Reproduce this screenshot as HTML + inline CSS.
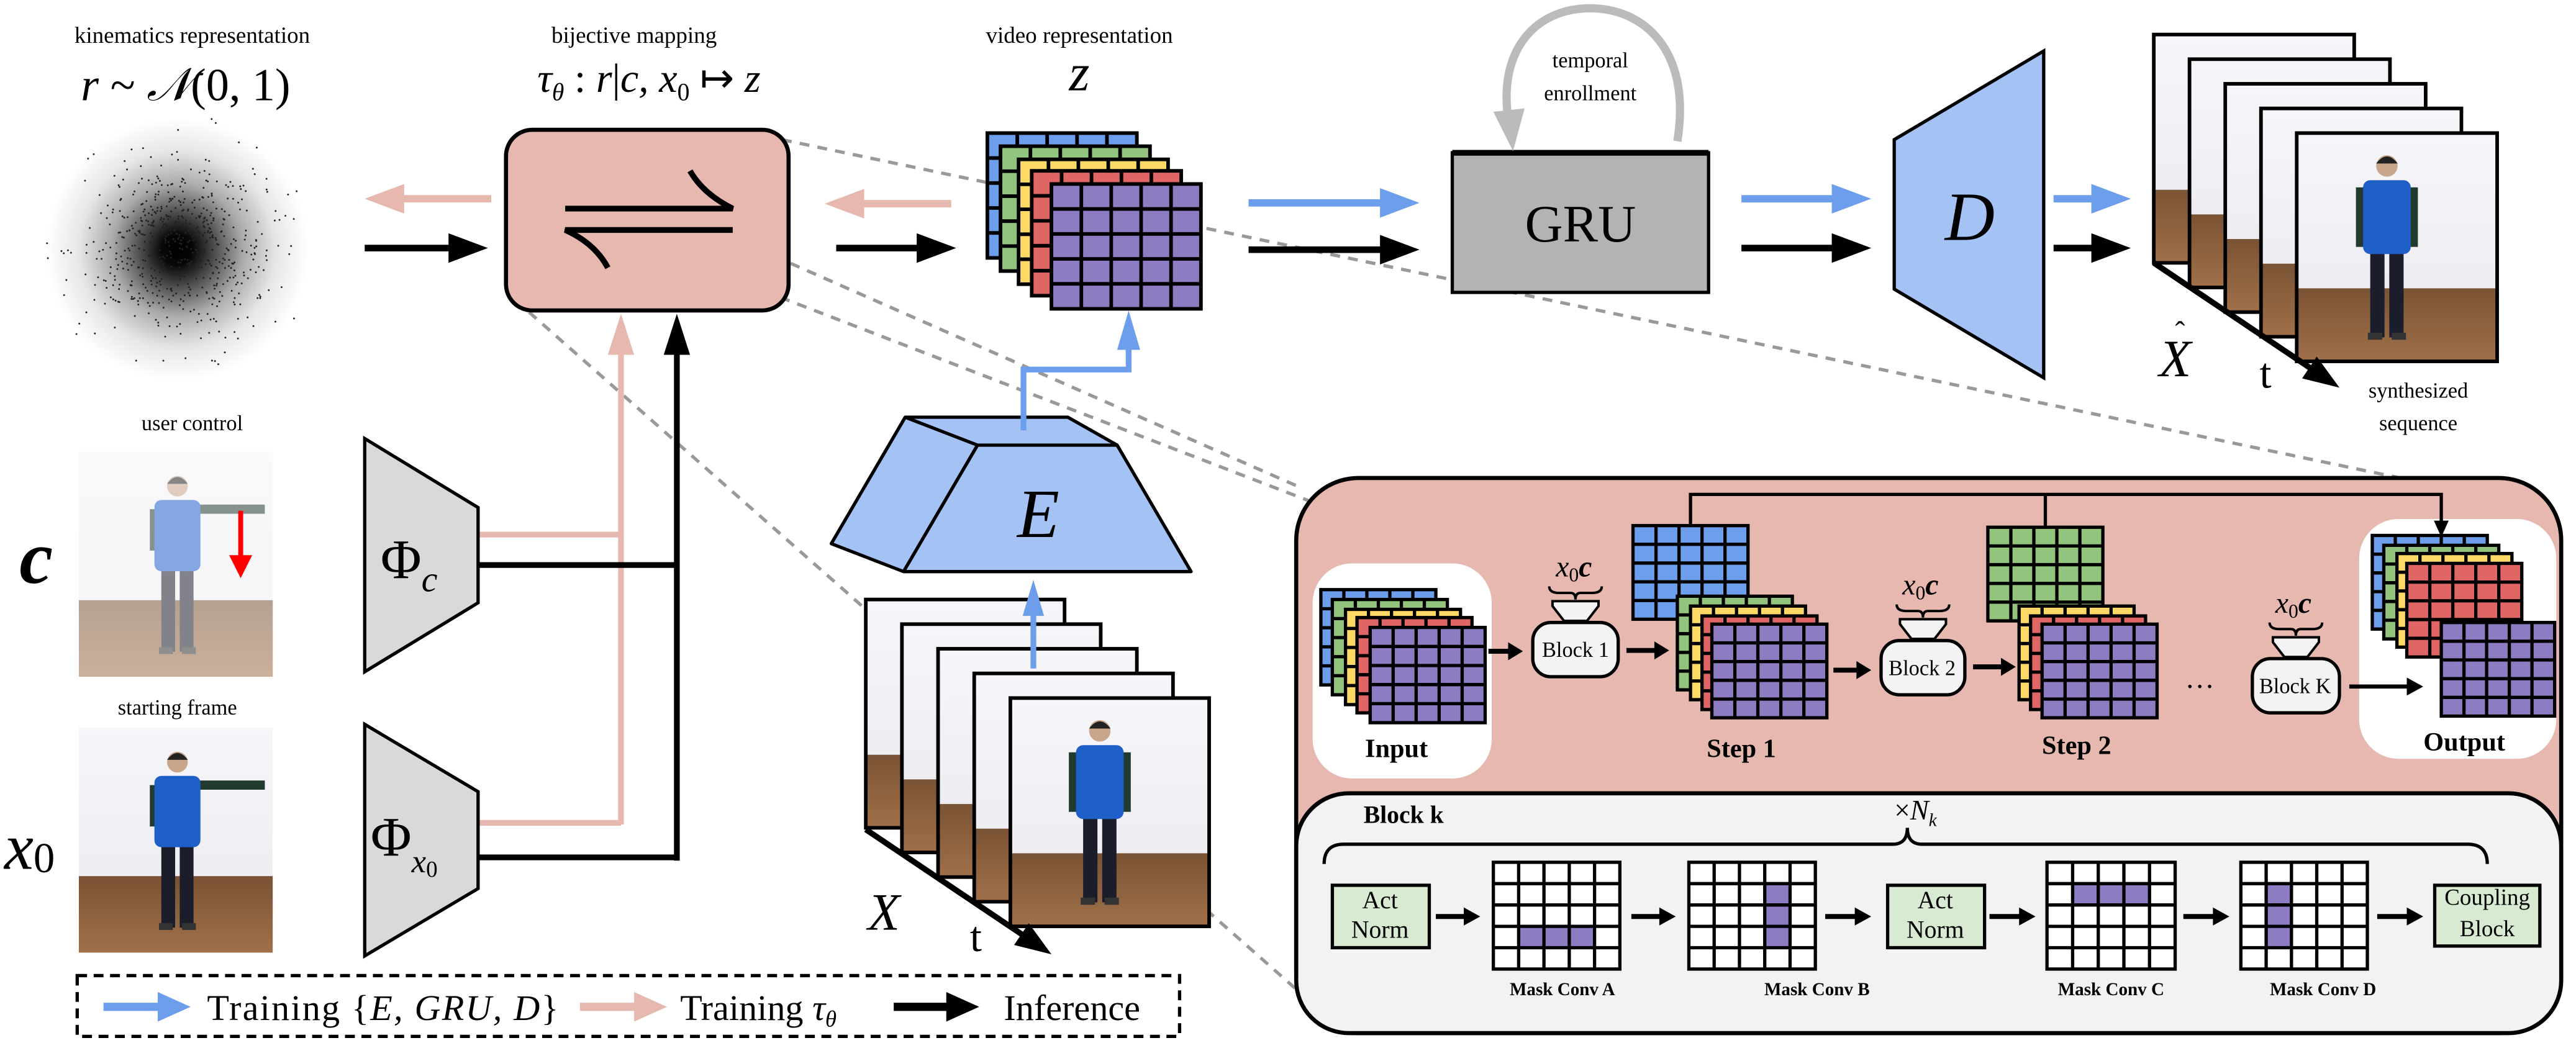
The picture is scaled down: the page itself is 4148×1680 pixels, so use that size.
<!DOCTYPE html>
<html><head><meta charset="utf-8"><style>html,body{margin:0;padding:0;background:#fff}svg{display:block}</style></head>
<body>
<svg id="s" xmlns="http://www.w3.org/2000/svg" width="4148" height="1680" viewBox="0 0 1568 635" font-family="'Liberation Serif', serif">
<defs>
<radialGradient id="blob" cx="0.5" cy="0.5" r="0.5">
<stop offset="0" stop-color="#000"/><stop offset="0.12" stop-color="#080808"/>
<stop offset="0.3" stop-color="#555"/><stop offset="0.5" stop-color="#aaa"/>
<stop offset="0.75" stop-color="#e6e6e6"/><stop offset="1" stop-color="#fff"/></radialGradient>
<linearGradient id="wall" x1="0" y1="0" x2="0" y2="1"><stop offset="0" stop-color="#f6f6fa"/><stop offset="1" stop-color="#e9e9ee"/></linearGradient>
<linearGradient id="floor" x1="0" y1="0" x2="0" y2="1"><stop offset="0" stop-color="#7a5334"/><stop offset="1" stop-color="#a0704a"/></linearGradient>
</defs>
<rect width="1568" height="635" fill="#fff"/>
<g id="dyn"></g>
<g id="txt" fill="#000">
<text x="117" y="26" font-size="14" text-anchor="middle">kinematics representation</text>
<text x="113" y="61" font-size="28" text-anchor="middle" font-style="italic">r <tspan font-style="normal">~</tspan> 𝒩<tspan font-style="normal">(0, 1)</tspan></text>
<text x="386" y="26" font-size="14" text-anchor="middle">bijective mapping</text>
<text x="395" y="56" font-size="25" text-anchor="middle" font-style="italic">τ<tspan font-size="15" dy="5">θ</tspan><tspan dy="-5" font-style="normal"> : </tspan>r<tspan font-style="normal">|</tspan>c, x<tspan font-size="15" dy="5" font-style="normal">0</tspan><tspan dy="-5" font-style="normal"> ↦ </tspan>z</text>
<text x="657" y="26" font-size="14" text-anchor="middle">video representation</text>
<text x="657" y="55" font-size="32" text-anchor="middle" font-style="italic">z</text>
<text x="968" y="41" font-size="13" text-anchor="middle">temporal</text>
<text x="968" y="61" font-size="13" text-anchor="middle">enrollment</text>
<text x="962" y="147" font-size="32" text-anchor="middle">GRU</text>
<text x="1199" y="146" font-size="42" text-anchor="middle" font-style="italic">D</text>
<text x="632" y="327" font-size="42" text-anchor="middle" font-style="italic">E</text>
<text x="117" y="262" font-size="13" text-anchor="middle">user control</text>
<text x="108" y="435" font-size="13" text-anchor="middle">starting frame</text>
<text x="22" y="355" font-size="46" text-anchor="middle" font-style="italic" font-weight="bold">c</text>
<text x="18" y="529" font-size="40" text-anchor="middle" font-style="italic">x<tspan font-size="26" font-style="normal" dy="2">0</tspan></text>
<text x="249" y="352" font-size="34" text-anchor="middle">Φ<tspan font-size="22" font-style="italic" dy="8">c</tspan></text>
<text x="246" y="521" font-size="34" text-anchor="middle">Φ<tspan font-size="20" font-style="italic" dy="10">x</tspan><tspan font-size="14" dy="3">0</tspan></text>
<text x="538" y="566" font-size="32" text-anchor="middle" font-style="italic">X</text>
<text x="594" y="579" font-size="26" text-anchor="middle">t</text>
<text x="1324" y="229" font-size="32" text-anchor="middle" font-style="italic">X</text>
<text x="1327" y="208" font-size="18" text-anchor="middle">ˆ</text>
<text x="1379" y="236" font-size="26" text-anchor="middle">t</text>
<text x="1472" y="242" font-size="13" text-anchor="middle">synthesized</text>
<text x="1472" y="262" font-size="13" text-anchor="middle">sequence</text>
<text x="126" y="621" font-size="22" textLength="214">Training {<tspan font-style="italic">E, GRU, D</tspan>}</text>
<text x="414" y="621" font-size="22">Training <tspan font-style="italic">τ<tspan font-size="14" dy="4">θ</tspan></tspan></text>
<text x="611" y="621" font-size="22">Inference</text>
<text x="850" y="461" font-size="16" font-weight="bold" text-anchor="middle">Input</text>
<text x="1060" y="461" font-size="16" font-weight="bold" text-anchor="middle">Step 1</text>
<text x="1264" y="459" font-size="16" font-weight="bold" text-anchor="middle">Step 2</text>
<text x="1500" y="457" font-size="16" font-weight="bold" text-anchor="middle">Output</text>
<text x="959" y="400" font-size="13" text-anchor="middle">Block 1</text>
<text x="1170" y="411" font-size="13" text-anchor="middle">Block 2</text>
<text x="1397" y="422" font-size="13" text-anchor="middle">Block K</text>
<text x="958" y="351" font-size="18" text-anchor="middle" font-style="italic">x<tspan font-size="12" dy="3" font-style="normal">0</tspan><tspan dy="-3" font-weight="bold">c</tspan></text>
<text x="1169" y="362" font-size="18" text-anchor="middle" font-style="italic">x<tspan font-size="12" dy="3" font-style="normal">0</tspan><tspan dy="-3" font-weight="bold">c</tspan></text>
<text x="1396" y="373" font-size="18" text-anchor="middle" font-style="italic">x<tspan font-size="12" dy="3" font-style="normal">0</tspan><tspan dy="-3" font-weight="bold">c</tspan></text>
<text x="1339" y="424" font-size="18" text-anchor="middle">···</text>
<text x="830" y="501" font-size="15" font-weight="bold">Block k</text>
<text x="1166" y="499" font-size="17" text-anchor="middle">×<tspan font-style="italic">N<tspan font-size="11" dy="4">k</tspan></tspan></text>
<text x="840" y="553" font-size="15" text-anchor="middle">Act</text>
<text x="840" y="571" font-size="15" text-anchor="middle">Norm</text>
<text x="1178" y="553" font-size="15" text-anchor="middle">Act</text>
<text x="1178" y="571" font-size="15" text-anchor="middle">Norm</text>
<text x="1514" y="551" font-size="14" text-anchor="middle">Coupling</text>
<text x="1514" y="570" font-size="14" text-anchor="middle">Block</text>
<text x="951" y="606" font-size="11" font-weight="bold" text-anchor="middle">Mask Conv A</text>
<text x="1106" y="606" font-size="11" font-weight="bold" text-anchor="middle">Mask Conv B</text>
<text x="1285" y="606" font-size="11" font-weight="bold" text-anchor="middle">Mask Conv C</text>
<text x="1414" y="606" font-size="11" font-weight="bold" text-anchor="middle">Mask Conv D</text>
</g>
</svg>
<script>
const NS='http://www.w3.org/2000/svg';
const G=document.getElementById('dyn');
function el(t,a,p){const e=document.createElementNS(NS,t);for(const k in a)e.setAttribute(k,a[k]);(p||G).appendChild(e);return e;}
const BL='#6d9eeb',GR='#93c47d',YE='#ffd966',RE='#e06666',PU='#8e7cc3',PK='#e6b8af',LB='#a4c2f4';
function grid(x,y,w,h,fill,cols,rows,sw,cells){
 el('rect',{x,y,width:w,height:h,fill});
 if(cells)for(const [r,c] of cells)el('rect',{x:x+c*w/cols,y:y+r*h/rows,width:w/cols,height:h/rows,fill:PU});
 let d='';
 for(let i=1;i<cols;i++){const xx=x+i*w/cols;d+=`M${xx} ${y}V${y+h}`;}
 for(let j=1;j<rows;j++){const yy=y+j*h/rows;d+=`M${x} ${yy}H${x+w}`;}
 el('path',{d,stroke:'#000','stroke-width':sw,fill:'none'});
 el('rect',{x,y,width:w,height:h,fill:'none',stroke:'#000','stroke-width':sw});
}
function arrow(x1,y1,x2,y2,col,sw,hl,hw){const dx=x2-x1,dy=y2-y1,L=Math.hypot(dx,dy),ux=dx/L,uy=dy/L;const bx=x2-ux*hl,by=y2-uy*hl;
 el('line',{x1,y1,x2:bx+ux,y2:by+uy,stroke:col,'stroke-width':sw});
 el('polygon',{points:`${x2},${y2} ${bx-uy*hw/2},${by+ux*hw/2} ${bx+uy*hw/2},${by-ux*hw/2}`,fill:col});}
function person(cx,hy,s,armOut){const g=el('g',{});
 el('rect',{x:cx-7*s,y:hy+35*s,width:6*s,height:37*s,fill:'#1b1d2a'},g);
 el('rect',{x:cx+1*s,y:hy+35*s,width:6*s,height:37*s,fill:'#1b1d2a'},g);
 el('rect',{x:cx-8*s,y:hy+70*s,width:6*s,height:3*s,fill:'#333'},g);
 el('rect',{x:cx+2*s,y:hy+70*s,width:6*s,height:3*s,fill:'#333'},g);
 if(armOut){el('rect',{x:cx+4*s,y:hy+8*s,width:34*s,height:4*s,fill:'#233a2e'},g);
  el('rect',{x:cx-12*s,y:hy+10*s,width:4*s,height:18*s,fill:'#233a2e'},g);}
 else{el('rect',{x:cx-13*s,y:hy+9*s,width:4*s,height:25*s,fill:'#233a2e'},g);
  el('rect',{x:cx+9*s,y:hy+9*s,width:4*s,height:25*s,fill:'#233a2e'},g);}
 el('rect',{x:cx-10*s,y:hy+6*s,width:20*s,height:31*s,rx:3*s,fill:'#1f5fc8'},g);
 el('circle',{cx,cy:hy,r:4.5*s,fill:'#c9a58c'},g);
 el('path',{d:`M${cx-4.5*s} ${hy-1*s}Q${cx} ${hy-7*s} ${cx+4.5*s} ${hy-1*s}`,fill:'#222'},g);return g;}
function frame(x,y,w,h,p){el('rect',{x,y,width:w,height:h,fill:'url(#wall)'});
 el('rect',{x,y:y+h*0.68,width:w,height:h*0.32,fill:'url(#floor)'});
 if(p)person(x+w*0.45,y+20,1.45);
 el('rect',{x,y,width:w,height:h,fill:'none',stroke:'#000','stroke-width':2.2});}
// blob
el('circle',{cx:108,cy:152,r:80,fill:'url(#blob)'});
let sd=7;function rnd(){sd=(sd*16807)%2147483647;return sd/2147483647;}
for(let i=0;i<650;i++){const a=rnd()*6.283,r=Math.sqrt(-2*Math.log(rnd()+1e-9))*27;if(r>85)continue;el('circle',{cx:108+r*Math.cos(a),cy:152+r*Math.sin(a),r:0.55,fill:'#222'});}
// dashed lines
const dl={stroke:'#999','stroke-width':2,'stroke-dasharray':'6 5',fill:'none'};
el('line',Object.assign({x1:476,y1:85,x2:1461,y2:291},dl));
el('line',Object.assign({x1:310,y1:85,x2:792,y2:297},dl));
el('line',Object.assign({x1:475,y1:181,x2:797,y2:305},dl));
el('line',Object.assign({x1:322,y1:190,x2:800,y2:612},dl));
// pink box
el('rect',{x:308,y:79,width:172,height:110,rx:16,fill:PK,stroke:'#000','stroke-width':2.5});
el('path',{d:'M344 127H446Q428 118 420 104M446 140H344Q362 148 370 163',fill:'none',stroke:'#000','stroke-width':3.5});
arrow(299,121,222,121,PK,4.5,24,18);arrow(222,151,297,151,'#000',4,24,18);
arrow(579,124,502,124,PK,4.5,24,18);arrow(509,151,582,151,'#000',4,24,18);
// z stack
[[601,81,BL],[609,89,GR],[620,97,YE],[628,104,RE],[640,112,PU]].forEach(([x,y,c])=>grid(x,y,91,76,c,5,5,2.2));
// verticals
el('path',{d:'M291 325.5H378M291 501H378',stroke:PK,'stroke-width':3.5,fill:'none'});
arrow(378,502,378,191,PK,3.5,25,16);
el('path',{d:'M291 344H412M291 522H412',stroke:'#000','stroke-width':3.5,fill:'none'});
arrow(412,524,412,191,'#000',3.5,25,16);
// phis
el('polygon',{points:'222,267 291,309 291,367 222,409',fill:'#d9d9d9',stroke:'#000','stroke-width':2});
el('polygon',{points:'222,441 291,482 291,541 222,582',fill:'#d9d9d9',stroke:'#000','stroke-width':2});
// E
el('polygon',{points:'551,254 650,254 680,271 725,348 550,348 506,331',fill:LB,stroke:'#000','stroke-width':2,'stroke-linejoin':'round'});
el('path',{d:'M551 254L595 271H680M595 271L550 348',fill:'none',stroke:'#000','stroke-width':2});
el('path',{d:'M623 262V225H687V212',fill:'none',stroke:BL,'stroke-width':3.5});
arrow(687,215,687,189,BL,3.5,24,14);
// X frames
for(let i=0;i<5;i++)frame(527+i*22,365+i*15,121,139,i==4);
arrow(527,505,640,581,'#000',3.5,22,16);
arrow(629,407,629,353,BL,3.5,22,13);
// GRU
el('rect',{x:884,y:93,width:156,height:85,fill:'#b3b3b3',stroke:'#000','stroke-width':2});
el('line',{x1:884,y1:93,x2:1040,y2:93,stroke:'#000','stroke-width':3.5});
el('path',{d:'M1021 86C1030 30 1000 5 968 5C935 5 912 30 918 72',fill:'none',stroke:'#bbb','stroke-width':5});
el('polygon',{points:'909,68 928,66 921,92',fill:'#bbb'});
arrow(760,123.5,864,123.5,BL,4.5,24,18);arrow(760,152,864,152,'#000',4,24,18);
arrow(1060,121,1139,121,BL,4.5,24,18);arrow(1060,151,1139,151,'#000',4,24,18);
el('polygon',{points:'1153,85 1244,31 1244,230 1153,176',fill:LB,stroke:'#000','stroke-width':2});
arrow(1250,121,1297,121,BL,4.5,24,18);arrow(1250,151,1297,151,'#000',4,24,18);
for(let i=0;i<5;i++)frame(1311+i*21.75,21+i*15,122,139,i==4);
arrow(1311,160,1424,236,'#000',3.5,22,16);
// panel
el('rect',{x:789,y:291,width:770,height:338,rx:38,fill:PK,stroke:'#000','stroke-width':2.5});
el('rect',{x:789,y:483,width:770,height:146,rx:32,fill:'#f2f2f2',stroke:'#000','stroke-width':2.5});
el('rect',{x:799,y:343,width:109,height:131,rx:24,fill:'#fff'});
el('rect',{x:1436,y:316,width:120,height:146,rx:24,fill:'#fff'});
el('path',{d:'M1029 321V301H1486V318M1245 301V321',fill:'none',stroke:'#000','stroke-width':2});
arrow(1486,316,1486,327,'#000',2,10,9);
[[804,359,BL],[811,365,GR],[819,371,YE],[826,376,RE],[834,382,PU]].forEach(([x,y,c])=>grid(x,y,70,58,c,5,5,2));
grid(994,320,70,57,BL,5,5,2);
[[1021,363,GR],[1029,369,YE],[1036,375,RE],[1042,380,PU]].forEach(([x,y,c])=>grid(x,y,70,57,c,5,5,2));
grid(1210,321,70,57,GR,5,5,2);
[[1229,369,YE],[1236,375,RE],[1243,380,PU]].forEach(([x,y,c])=>grid(x,y,70,57,c,5,5,2));
[[1444,326,BL],[1451,332,GR],[1459,337,YE],[1465,343,RE]].forEach(([x,y,c])=>grid(x,y,70,57,c,5,5,2));
grid(1486,379,69,57,PU,5,5,2);
function block(x,y,w,h){const cx=x+w/2;
 el('polygon',{points:`${cx-14},${y-13} ${cx+14},${y-13} ${cx+14},${y-10} ${cx+7},${y-1} ${cx-7},${y-1} ${cx-14},${y-10}`,fill:'#f3f3f3',stroke:'#000','stroke-width':1.5});
 el('rect',{x,y,width:w,height:h,rx:11,fill:'#f3f3f3',stroke:'#000','stroke-width':2});
 const y0=y-22;el('path',{d:`M${cx-16} ${y0}Q${cx-16} ${y0+4} ${cx-10} ${y0+4}H${cx-3}Q${cx} ${y0+4} ${cx} ${y0+8}Q${cx} ${y0+4} ${cx+3} ${y0+4}H${cx+10}Q${cx+16} ${y0+4} ${cx+16} ${y0}`,fill:'none',stroke:'#000','stroke-width':1.5});}
block(933,379,52,33);block(1145,390,51,33);block(1371,401,53,33);
arrow(906,396.5,927,396.5,'#000',3,9,11);arrow(990,396,1016,396,'#000',3,9,11);
arrow(1116,408,1139,408,'#000',3,9,11);arrow(1201,406,1227,406,'#000',3,9,11);
arrow(1430,418,1475,418,'#000',2.5,10,11);
// block k
el('path',{d:'M806 526Q806 514 818 514H1152Q1161 514 1161 504Q1161 514 1170 514H1502Q1514 514 1514 526',fill:'none',stroke:'#000','stroke-width':2});
el('rect',{x:811,y:539,width:59,height:38,fill:'#d9ead3',stroke:'#000','stroke-width':2});
el('rect',{x:1149,y:539,width:59,height:38,fill:'#d9ead3',stroke:'#000','stroke-width':2});
el('rect',{x:1482,y:539,width:64,height:37,fill:'#d9ead3',stroke:'#000','stroke-width':2});
grid(909,525,77,65,'#fff',5,5,2,[[3,1],[3,2],[3,3]]);
grid(1028,525,77,65,'#fff',5,5,2,[[1,3],[2,3],[3,3]]);
grid(1246,525,78,65,'#fff',5,5,2,[[1,1],[1,2],[1,3]]);
grid(1364,525,77,65,'#fff',5,5,2,[[1,1],[2,1],[3,1]]);
[[874,901],[993,1020],[1111,1139],[1211,1239],[1329,1357],[1447,1475]].forEach(([a,b])=>arrow(a,558,b,558,'#000',3,10,11));
// legend
el('rect',{x:47,y:594,width:671,height:37,fill:'none',stroke:'#000','stroke-width':2,'stroke-dasharray':'6 4'});
arrow(63,613,116,613,BL,5,20,18);arrow(353,613,406,613,PK,5,20,18);arrow(544,613,596,613,'#000',5,20,18);
// photos
function photo(x,y,w,h,op){el('rect',{x,y,width:w,height:h,fill:'url(#wall)'});el('rect',{x,y:y+h*0.66,width:w,height:h*0.34,fill:'url(#floor)'});
 person(x+60,y+21,1.4,true);
 if(op)el('rect',{x,y,width:w,height:h,fill:'#fff','fill-opacity':op});}
photo(48,275,118,137,0.45);photo(48,443,118,137,0);
arrow(146.5,311,146.5,352,'#f00',3,14,14);
</script>
</body></html>
